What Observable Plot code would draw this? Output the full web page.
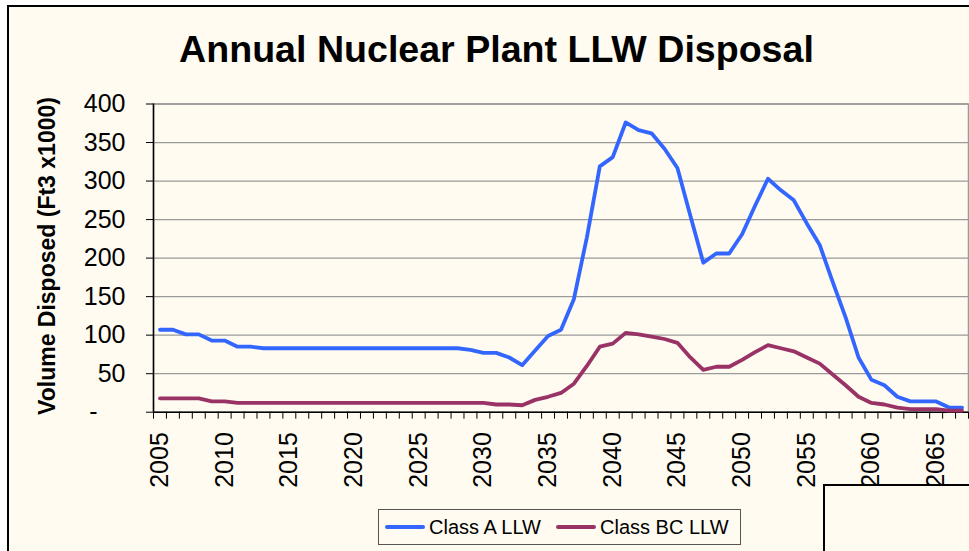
<!DOCTYPE html>
<html>
<head>
<meta charset="utf-8">
<script src="https://cdn.jsdelivr.net/npm/d3@7"></script>
<script src="https://cdn.jsdelivr.net/npm/@observablehq/plot@0.6"></script>
<style>
  html, body { margin: 0; padding: 0; background: #ffffff; }
  #wrap { position: relative; width: 969px; height: 551px; overflow: hidden; font-family: "Liberation Sans", Arial, sans-serif; }
  #panel { position: absolute; left: 7px; top: 5px; width: 980px; height: 560px; background: #FFFBF0; border-left: 2px solid #000; border-top: 2px solid #000; }
  #title { position: absolute; left: 96.5px; width: 800px; top: 31px; text-align: center; font-size: 37.6px; font-weight: bold; line-height: 1; white-space: nowrap; color: #000; }
  #ylabel { position: absolute; left: 47px; top: 256px; transform: translate(-50%, -50%) rotate(-90deg); font-size: 23px; font-weight: bold; line-height: 1; white-space: nowrap; color: #000; }
  #chart { position: absolute; left: 0; top: 0; }
  #legend { position: absolute; left: 378px; top: 509px; width: 363px; height: 36px; border: 1.5px solid #555; box-sizing: border-box; background: #FFFBF0; }
  .item { position: absolute; top: 0; height: 100%; display: flex; align-items: center; font-size: 20px; color: #000; white-space: nowrap; }
  .swatch { display: inline-block; width: 40px; height: 4px; border-radius: 2px; margin-right: 4px; }
  #box { position: absolute; left: 823px; top: 484px; width: 200px; height: 100px; border-left: 2px solid #000; border-top: 2px solid #000; background: #FFFBF0; }
</style>
</head>
<body>
<div id="wrap">
  <div id="panel"></div>
  <div id="title">Annual Nuclear Plant LLW Disposal</div>
  <div id="ylabel">Volume Disposed (Ft3 x1000)</div>
  <div id="chart"></div>
  <div id="legend"></div>
  <div id="box"></div>
</div>
<script>
const years = [2005,2006,2007,2008,2009,2010,2011,2012,2013,2014,2015,2016,2017,2018,2019,2020,2021,2022,2023,2024,2025,2026,2027,2028,2029,2030,2031,2032,2033,2034,2035,2036,2037,2038,2039,2040,2041,2042,2043,2044,2045,2046,2047,2048,2049,2050,2051,2052,2053,2054,2055,2056,2057,2058,2059,2060,2061,2062,2063,2064,2065,2066,2067];

const classA = [107,107,101,101,93,93,85,85,83,83,83,83,83,83,83,83,83,83,83,83,83,83,83,83,81,77,77,71,61,80,99,107,147,227,319,331,376,366,362,342,317,255,194,206,206,231,268,303,288,275,245,217,169,123,71,42,35,20,14,14,14,6,6];

const classBC = [18,18,18,18,14,14,12,12,12,12,12,12,12,12,12,12,12,12,12,12,12,12,12,12,12,12,10,10,9,16,20,25,37,60,85,89,103,101,98,95,90,71,55,59,59,68,78,87,83,79,71,63,49,35,20,12,10,6,4,4,4,2,2];

const yTicks = [0,50,100,150,200,250,300,350,400];
const xLabelYears = [2005,2010,2015,2020,2025,2030,2035,2040,2045,2050,2055,2060,2065];
const seriesNames = ["Class A LLW", "Class BC LLW"];
const seriesColors = ["#3366FF", "#993366"];

const rows = years.map((yr, i) => ({year: yr, a: classA[i], bc: classBC[i]}));
const boundaries = years.map(y => y - 0.5).concat([years[years.length - 1] + 0.5]);

const chart = Plot.plot({
  width: 969,
  height: 551,
  marginLeft: 153,
  marginRight: 1,
  marginTop: 103.5,
  marginBottom: 139.3,
  style: {background: "transparent", fontFamily: '"Liberation Sans", Arial, sans-serif', fontSize: "25px", color: "#000", overflow: "visible"},
  x: {type: "linear", domain: [boundaries[0], boundaries[boundaries.length - 1]]},
  y: {domain: [0, 400]},
  marks: [
    Plot.gridY(yTicks.filter(d => d > 0), {stroke: "#9a9a9a", strokeOpacity: 1, strokeWidth: 1.3}),
    Plot.frame({stroke: "#9a9a9a", strokeWidth: 1.5}),
    Plot.ruleY([0], {stroke: "#000", strokeWidth: 1.5}),
    Plot.ruleX([boundaries[0]], {stroke: "#000", strokeWidth: 1.5}),
    Plot.axisY({ticks: yTicks, tickSize: 7, tickPadding: 21, tickFormat: d => d === 0 ? "-\u2007\u2007" : String(d), label: null, stroke: "#000"}),
    Plot.axisX({ticks: boundaries, tickSize: 7, fill: "none", tickFormat: () => "", label: null, stroke: "#000"}),
    Plot.axisX({ticks: xLabelYears, tickSize: 0, tickPadding: 20, tickRotate: -90, tickFormat: d => String(d), label: null}),
    Plot.line(rows, {x: "year", y: "a", stroke: seriesColors[0], strokeWidth: 3.8}),
    Plot.line(rows, {x: "year", y: "bc", stroke: seriesColors[1], strokeWidth: 3.8})
  ]
});
document.getElementById("chart").appendChild(chart);

const legend = document.getElementById("legend");
const lefts = [6, 177];
seriesNames.forEach((name, i) => {
  const item = document.createElement("div");
  item.className = "item";
  item.style.left = lefts[i] + "px";
  const sw = document.createElement("span");
  sw.className = "swatch";
  sw.style.background = seriesColors[i];
  item.appendChild(sw);
  item.appendChild(document.createTextNode(name));
  legend.appendChild(item);
});
</script>
</body>
</html>
